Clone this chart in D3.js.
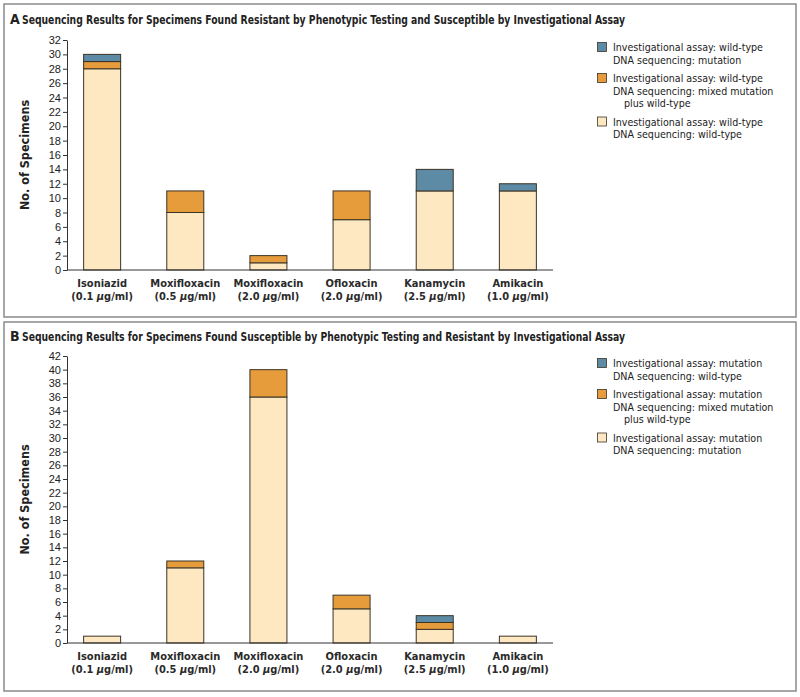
<!DOCTYPE html>
<html lang="en">
<head>
<meta charset="UTF-8" />
<title>Sequencing Results</title>
<style>
  body { margin: 0; background: #fff; }
  svg { display: block; font-family: "DejaVu Sans Condensed", "Liberation Sans Narrow", "Roboto", sans-serif; }
</style>
</head>
<body>
<div id="chart"></div>
<script src="https://d3js.org/d3.v7.min.js"></script>
<script>
  const drugs = ["Isoniazid", "Moxifloxacin", "Moxifloxacin", "Ofloxacin", "Kanamycin", "Amikacin"];
  const doses = ["0.1", "0.5", "2.0", "2.0", "2.5", "1.0"];

  // panel A: resistant by phenotype, susceptible by assay
  const aWildWild = [28, 8, 1, 7, 11, 11];
  const aWildMixed = [1, 3, 1, 4, 0, 0];
  const aWildMut = [1, 0, 0, 0, 3, 1];
  const aTicks = d3.range(0, 33, 2);

  // panel B: susceptible by phenotype, resistant by assay
  const bMutMut = [1, 11, 36, 5, 2, 1];
  const bMutMixed = [0, 1, 4, 2, 1, 0];
  const bMutWild = [0, 0, 0, 0, 1, 0];
  const bTicks = d3.range(0, 43, 2);

  const colors = { light: "#fde8c2", orange: "#e79c3c", blue: "#5d8ba5" };

  const W = 800, H = 697;
  const svg = d3.select("#chart").append("svg").attr("width", W).attr("height", H);

  const x = d3.scaleBand().domain(d3.range(drugs.length)).range([67, 553])
    .paddingInner(0.555).paddingOuter(0.2);

  function panel(cfg) {
    const g = svg.append("g");
    g.append("rect").attr("x", cfg.box[0]).attr("y", cfg.box[1])
      .attr("width", cfg.box[2]).attr("height", cfg.box[3])
      .attr("fill", "none").attr("stroke", "#8a8a8a").attr("stroke-width", 1.5);

    g.append("text").attr("x", 10).attr("y", cfg.titleY)
      .attr("font-size", 14).attr("font-weight", "bold").attr("fill", "#222").text(cfg.letter);
    g.append("text").attr("x", 22).attr("y", cfg.titleY)
      .attr("font-size", 12.5).attr("font-weight", "bold").attr("fill", "#222")
      .attr("textLength", 603).attr("lengthAdjust", "spacingAndGlyphs")
      .text(cfg.title);

    const y = d3.scaleLinear().domain([0, cfg.max]).range([cfg.y0, cfg.yTop]);

    const rows = drugs.map((d, i) => {
      const r = { i: i };
      cfg.series.forEach(s => r[s.key] = s.values[i]);
      return r;
    });
    const stacked = d3.stack().keys(cfg.series.map(s => s.key))(rows);

    stacked.forEach((layer, li) => {
      g.append("g").selectAll("rect")
        .data(layer.filter(d => d[1] > d[0]))
        .join("rect")
        .attr("x", d => x(d.data.i))
        .attr("width", x.bandwidth())
        .attr("y", d => y(d[1]))
        .attr("height", d => y(d[0]) - y(d[1]))
        .attr("fill", cfg.series[li].color)
        .attr("stroke", "#3b3326").attr("stroke-width", 1);
    });

    const yAxis = d3.axisLeft(y).tickValues(cfg.ticks).tickSize(4).tickPadding(2).tickSizeOuter(0);
    const ya = g.append("g").attr("transform", `translate(67,0)`).call(yAxis);
    ya.select(".domain").attr("stroke", "#333");
    ya.selectAll(".tick line").attr("stroke", "#333");
    ya.selectAll(".tick text").attr("font-size", 11).attr("fill", "#222").attr("font-family", null);

    g.append("line").attr("x1", 67).attr("x2", 553).attr("y1", cfg.y0).attr("y2", cfg.y0)
      .attr("stroke", "#333").attr("stroke-width", 1);

    const lab = g.append("g").selectAll("text").data(drugs).join("text")
      .attr("text-anchor", "middle").attr("font-size", 11).attr("font-weight", "bold")
      .attr("fill", "#2a2a2a");
    lab.append("tspan").attr("x", (d, i) => x(i) + x.bandwidth() / 2).attr("y", cfg.y0 + 17).text(d => d);
    const l2 = lab.append("tspan").attr("x", (d, i) => x(i) + x.bandwidth() / 2).attr("y", cfg.y0 + 30);
    l2.append("tspan").text((d, i) => "(" + doses[i] + " ");
    l2.append("tspan").attr("font-style", "italic").text("\u03bc");
    l2.append("tspan").text("g/ml)");

    g.append("text").attr("transform", `translate(29,${(cfg.y0 + cfg.yTop) / 2}) rotate(-90)`)
      .attr("text-anchor", "middle").attr("font-size", 12.5).attr("font-weight", "bold")
      .attr("fill", "#222").text("No. of Specimens");

    // legend, top entry is the top segment
    const leg = cfg.series.slice().reverse();
    let ly = cfg.legY;
    leg.forEach(s => {
      const lg = g.append("g");
      lg.append("rect").attr("x", 597.5).attr("y", ly - 8.5).attr("width", 9).attr("height", 9)
        .attr("fill", s.color).attr("stroke", "#3b3326").attr("stroke-width", 0.8);
      s.label.forEach((line, k) => {
        lg.append("text").attr("x", k === 2 ? 624 : 613).attr("y", ly + k * 12.5)
          .attr("font-size", 10.6).attr("fill", "#222").text(line);
      });
      ly += s.label.length * 12.5 + 6;
    });
  }

  panel({
    letter: "A",
    title: "Sequencing Results for Specimens Found Resistant by Phenotypic Testing and Susceptible by Investigational Assay",
    box: [4, 4, 792, 313], titleY: 24,
    max: 32, ticks: aTicks, y0: 270, yTop: 40, legY: 51,
    series: [
      { key: "ww", values: aWildWild, color: colors.light,
        label: ["Investigational assay: wild-type", "DNA sequencing: wild-type"] },
      { key: "wx", values: aWildMixed, color: colors.orange,
        label: ["Investigational assay: wild-type", "DNA sequencing: mixed mutation", "plus wild-type"] },
      { key: "wm", values: aWildMut, color: colors.blue,
        label: ["Investigational assay: wild-type", "DNA sequencing: mutation"] }
    ]
  });

  panel({
    letter: "B",
    title: "Sequencing Results for Specimens Found Susceptible by Phenotypic Testing and Resistant by Investigational Assay",
    box: [4, 322, 792, 369], titleY: 341,
    max: 42, ticks: bTicks, y0: 643, yTop: 356, legY: 367,
    series: [
      { key: "mm", values: bMutMut, color: colors.light,
        label: ["Investigational assay: mutation", "DNA sequencing: mutation"] },
      { key: "mx", values: bMutMixed, color: colors.orange,
        label: ["Investigational assay: mutation", "DNA sequencing: mixed mutation", "plus wild-type"] },
      { key: "mw", values: bMutWild, color: colors.blue,
        label: ["Investigational assay: mutation", "DNA sequencing: wild-type"] }
    ]
  });
</script>
</body>
</html>
